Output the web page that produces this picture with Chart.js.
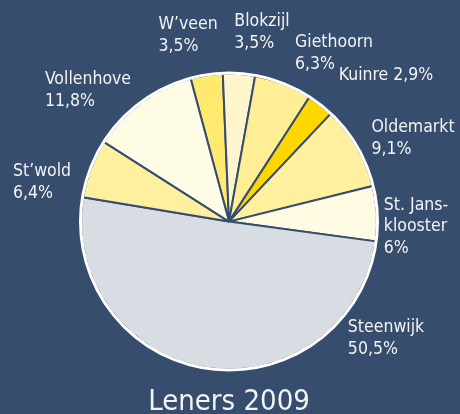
<!DOCTYPE html>
<html>
<head>
<meta charset="utf-8">
<script src="https://cdn.jsdelivr.net/npm/chart.js@4.4.1/dist/chart.umd.min.js"></script>
<style>
html, body { margin: 0; padding: 0; background: #374d6e; }
canvas { display: block; }
</style>
</head>
<body>
<canvas id="leners" width="460" height="414"></canvas>
<script>
// plaatsen (regels zoals ze in het label staan) en aandeel leners in %
var plaatsen = [['W’veen'], ['Blokzijl'], ['Giethoorn'], ['Kuinre'], ['Oldemarkt'],
    ['St. Jans-', 'klooster'], ['Steenwijk'], ['St’wold'], ['Vollenhove']];
var percentages = [3.5, 3.5, 6.3, 2.9, 9.1, 6, 50.5, 6.4, 11.8];
var titel = 'Leners 2009';

var kleuren = ['#ffe96e', '#fff5cc', '#ffee94', '#ffd700', '#fff0a0',
    '#fffbe3', '#d8dde4', '#fff0a0', '#fffce6'];
var achtergrond = '#374d6e';
var tekstkleur = '#f3f3f3';
var lettertype = '"DejaVu Sans Condensed", "DejaVu Sans", sans-serif';

// midden van elk labelblok t.o.v. het midden van de taart (px)
var label_pos = [[-41, -186], [33, -189], [105, -168], [157, -146], [184, -83],
    [187, 5], [157, 117], [-187, -39], [-141, -131]];
var label_op_een_regel = [false, false, false, true, false, false, false, false, false];

function pct_tekst(v) {
    return String(v).replace('.', ',') + '%';
}

var labelPlugin = {
    id: 'labels',
    afterDatasetsDraw: function (chart) {
        var ctx = chart.ctx;
        var meta = chart.getDatasetMeta(0);
        var arc0 = meta.data[0];
        // witte rand om de taart
        ctx.save();
        ctx.beginPath();
        ctx.arc(arc0.x, arc0.y, arc0.outerRadius + 0.5, 0, Math.PI * 2);
        ctx.strokeStyle = '#ffffff';
        ctx.lineWidth = 3;
        ctx.stroke();

        ctx.font = '17.5px ' + lettertype;
        ctx.fillStyle = tekstkleur;
        ctx.textBaseline = 'middle';
        ctx.textAlign = 'left';
        var lh = 21.5;
        for (var i = 0; i < meta.data.length; i++) {
            var arc = meta.data[i];
            var regels;
            if (label_op_een_regel[i]) {
                regels = [plaatsen[i].join('') + ' ' + pct_tekst(percentages[i])];
            } else {
                regels = plaatsen[i].concat([pct_tekst(percentages[i])]);
            }
            var breedte = 0;
            regels.forEach(function (r) {
                breedte = Math.max(breedte, ctx.measureText(r).width);
            });
            var x = arc.x + label_pos[i][0] - breedte / 2;
            var y = arc.y + label_pos[i][1];
            for (var j = 0; j < regels.length; j++) {
                ctx.fillText(regels[j], x, y + (j - (regels.length - 1) / 2) * lh);
            }
        }
        ctx.restore();
    }
};

var ctx = document.getElementById('leners').getContext('2d');
var chart_leners = new Chart(ctx, {
    type: 'pie',
    data: {
        labels: plaatsen.map(function (p) { return p.join(''); }),
        datasets: [{
            data: percentages,
            backgroundColor: kleuren,
            borderColor: achtergrond,
            borderWidth: 2
        }]
    },
    options: {
        responsive: false,
        animation: false,
        rotation: -15,
        radius: 148,
        layout: { padding: { left: 70, right: 72, top: 58, bottom: -6 } },
        plugins: {
            legend: { display: false },
            tooltip: { enabled: false },
            title: {
                display: true,
                text: titel,
                position: 'bottom',
                color: tekstkleur,
                padding: 0,
                font: { family: lettertype, size: 29, weight: 'normal' }
            }
        }
    },
    plugins: [labelPlugin]
});
</script>
</body>
</html>
